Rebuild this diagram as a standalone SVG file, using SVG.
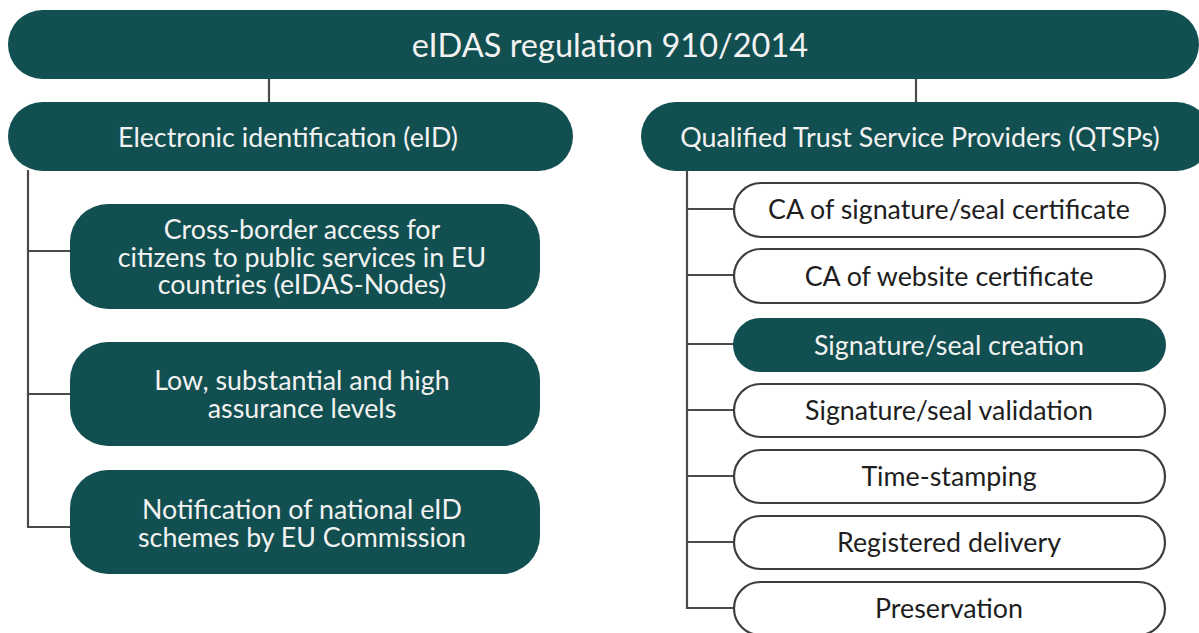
<svg xmlns="http://www.w3.org/2000/svg" width="1199" height="633" viewBox="0 0 1199 633">
  <style>
    .dark { fill: #124f50; }
    .light { fill: #ffffff; stroke: #3d3d3d; stroke-width: 2.2; }
    .wire { fill: none; stroke: #4a4a4a; stroke-width: 2.2; }
    text { font-family: Lato, "Noto Sans", "Liberation Sans", sans-serif; text-anchor: middle; }
    .tw { fill: #f2f2f2; }
    .tk { fill: #1e1e1e; }
    .t30 { font-size: 32.5px; }
    .t22 { font-size: 26.8px; }
  </style>
  <rect width="1199" height="633" fill="#ffffff"/>

  <!-- connectors -->
  <g id="connectors">
    <line class="wire" x1="269" y1="78" x2="269" y2="103"/>
    <line class="wire" x1="916" y1="78" x2="916" y2="103"/>
    <!-- eID branch -->
    <path class="wire" d="M28 170 V527 H71"/>
    <line class="wire" x1="28" y1="251" x2="71" y2="251"/>
    <line class="wire" x1="28" y1="394" x2="71" y2="394"/>
    <!-- QTSP branch -->
    <path class="wire" d="M687 170 V608 H734"/>
    <line class="wire" x1="687" y1="209" x2="734" y2="209"/>
    <line class="wire" x1="687" y1="275" x2="734" y2="275"/>
    <line class="wire" x1="687" y1="344" x2="734" y2="344"/>
    <line class="wire" x1="687" y1="410" x2="734" y2="410"/>
    <line class="wire" x1="687" y1="476" x2="734" y2="476"/>
    <line class="wire" x1="687" y1="542" x2="734" y2="542"/>
  </g>

  <g id="root">
    <rect class="dark" x="8" y="10" width="1191" height="69" rx="34.5"/>
    <text class="tw t30" x="610" y="57">eIDAS regulation 910/2014</text>
  </g>

  <g id="eid">
    <rect class="dark" x="8" y="102" width="565" height="69" rx="34.5"/>
    <text class="tw t22" x="288" y="147">Electronic identification (eID)</text>
  </g>

  <g id="qtsp">
    <rect class="dark" x="641" y="102" width="570" height="69" rx="34.5"/>
    <text class="tw t22" x="920" y="147">Qualified Trust Service Providers (QTSPs)</text>
  </g>

  <g id="eid-nodes">
    <rect class="dark" x="70" y="204" width="470" height="105" rx="38"/>
    <text class="tw t22" x="302" y="239">Cross-border access for</text>
    <text class="tw t22" x="302" y="266.5">citizens to public services in EU</text>
    <text class="tw t22" x="302" y="294">countries (eIDAS-Nodes)</text>
  </g>

  <g id="assurance">
    <rect class="dark" x="70" y="342" width="470" height="104" rx="38"/>
    <text class="tw t22" x="302" y="390">Low, substantial and high</text>
    <text class="tw t22" x="302" y="418">assurance levels</text>
  </g>

  <g id="notification">
    <rect class="dark" x="70" y="470" width="470" height="104" rx="38"/>
    <text class="tw t22" x="302" y="519">Notification of national eID</text>
    <text class="tw t22" x="302" y="547">schemes by EU Commission</text>
  </g>

  <g id="ca-signature">
    <rect class="light" x="734" y="183" width="431" height="54" rx="27"/>
    <text class="tk t22" x="949" y="219">CA of signature/seal certificate</text>
  </g>

  <g id="ca-website">
    <rect class="light" x="734" y="249" width="431" height="54" rx="27"/>
    <text class="tk t22" x="949" y="286">CA of website certificate</text>
  </g>

  <g id="sig-creation">
    <rect class="dark" x="733" y="318" width="433" height="54" rx="27"/>
    <text class="tw t22" x="949" y="355">Signature/seal creation</text>
  </g>

  <g id="sig-validation">
    <rect class="light" x="734" y="384" width="431" height="53" rx="26.5"/>
    <text class="tk t22" x="949" y="420">Signature/seal validation</text>
  </g>

  <g id="timestamping">
    <rect class="light" x="734" y="450" width="431" height="53" rx="26.5"/>
    <text class="tk t22" x="949" y="486">Time-stamping</text>
  </g>

  <g id="registered-delivery">
    <rect class="light" x="734" y="516" width="431" height="53" rx="26.5"/>
    <text class="tk t22" x="949" y="552">Registered delivery</text>
  </g>

  <g id="preservation">
    <rect class="light" x="734" y="582" width="431" height="53" rx="26.5"/>
    <text class="tk t22" x="949" y="618">Preservation</text>
  </g>
</svg>
